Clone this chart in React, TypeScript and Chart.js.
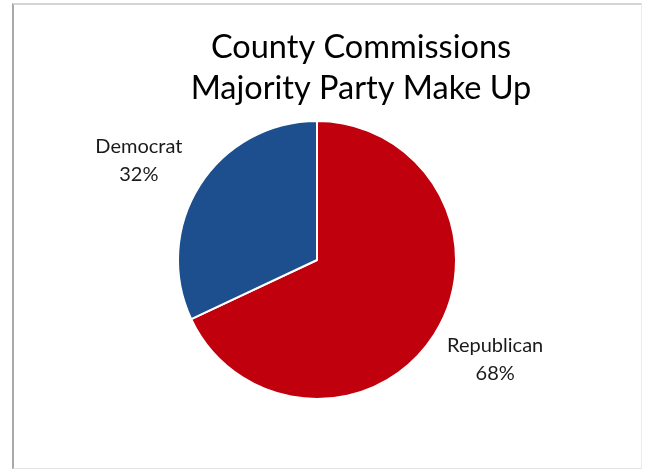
import React, { useEffect, useRef } from "react";
import { Chart, registerables } from "chart.js";

Chart.register(...registerables);

const categories = ["Republican", "Democrat"];
const values = [68, 32];
const colors = ["#C0000C", "#1D4E8E"];
const titleLines = ["County Commissions", "Majority Party Make Up"];

const outsideLabels = {
  id: "outsideLabels",
  afterDatasetsDraw(chart: any) {
    const meta = chart.getDatasetMeta(0);
    const ctx = chart.ctx;
    const total = values.reduce((a, b) => a + b, 0);
    ctx.save();
    ctx.fillStyle = "#1a1a1a";
    ctx.font = "20px Lato";
    ctx.textAlign = "center";
    ctx.textBaseline = "middle";
    meta.data.forEach((arc: any, i: number) => {
      const mid = (arc.startAngle + arc.endAngle) / 2;
      const r = arc.outerRadius;
      const x = arc.x + Math.cos(mid) * (r + 72);
      const y = arc.y + Math.sin(mid) * (r + 46);
      const pct = Math.round((values[i] / total) * 100) + "%";
      ctx.fillText(categories[i], x, y - 14);
      ctx.fillText(pct, x, y + 14);
    });
    ctx.restore();
  },
};

const titlePlugin = {
  id: "customTitle",
  afterDraw(chart: any, _args: any, opts: any) {
    const ctx = chart.ctx;
    ctx.save();
    ctx.fillStyle = "#000000";
    ctx.font = "32.5px Lato";
    ctx.textAlign = "center";
    ctx.textBaseline = "alphabetic";
    titleLines.forEach((t, i) => {
      ctx.fillText(t, opts.x, opts.y + i * opts.lineHeight);
    });
    ctx.restore();
  },
};

export default function App() {
  const ref = useRef<HTMLCanvasElement>(null);
  useEffect(() => {
    if (!ref.current) return;
    const chart = new Chart(ref.current, {
      type: "pie",
      data: {
        labels: categories,
        datasets: [
          {
            data: values,
            backgroundColor: colors,
            borderColor: "#ffffff",
            borderWidth: 2,
          },
        ],
      },
      options: {
        responsive: false,
        animation: false,
        layout: { padding: { left: 100, right: 111, top: 120, bottom: 73 } },
        plugins: {
          legend: { display: false },
          tooltip: { enabled: false },
          title: { display: false },
          customTitle: { x: 361, y: 58, lineHeight: 41 },
        } as any,
      },
      plugins: [outsideLabels, titlePlugin],
    });
    return () => chart.destroy();
  }, []);
  return (
    <div style={{ position: "absolute", left: 0, top: 0, width: 645, height: 473, background: "#fff" }}>
      <div
        style={{
          position: "absolute",
          left: 12,
          top: 3,
          width: 627,
          height: 463,
          borderLeft: "2px solid #a9a9a9",
          borderTop: "2px solid #d4d4d4",
          borderRight: "1px solid #ececec",
          borderBottom: "1px solid #e4e4e4",
        }}
      />
      <canvas ref={ref} width={645} height={473} style={{ position: "absolute", left: 0, top: 0 }} />
    </div>
  );
}
